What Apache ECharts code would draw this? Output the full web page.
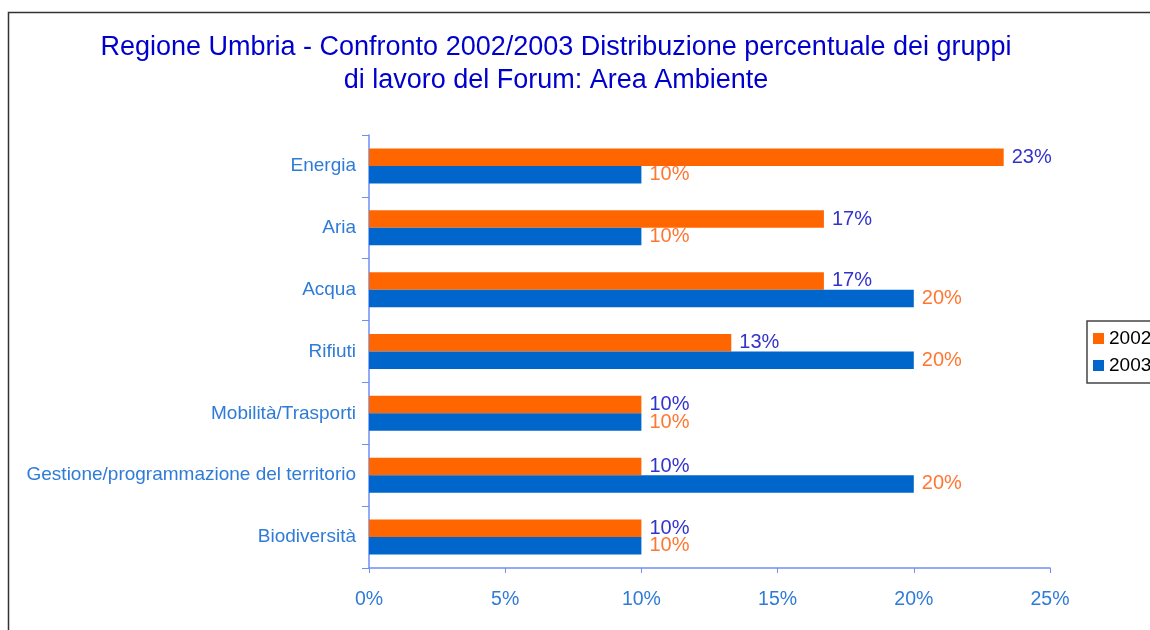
<!DOCTYPE html>
<html>
<head>
    <meta charset="utf-8">
    <title>Regione Umbria - Area Ambiente</title>
    <script src="https://cdn.jsdelivr.net/npm/echarts@6/dist/echarts.min.js"></script>
    <style>
        body { margin: 0; background: #fff; }
        #main { width: 1150px; height: 630px; }
    </style>
</head>
<body>
    <div id="main"></div>
    <script type="text/javascript">
        var categories = ['Energia', 'Aria', 'Acqua', 'Rifiuti', 'Mobilità/Trasporti',
            'Gestione/programmazione del territorio', 'Biodiversità'];
        var values2002 = [23.3, 16.7, 16.7, 13.3, 10, 10, 10];
        var values2003 = [10, 10, 20, 20, 10, 20, 10];
        var xTicks = [0, 5, 10, 15, 20, 25];

        var font = '"Liberation Sans", Arial, sans-serif';
        var chart = echarts.init(document.getElementById('main'));

        var option = {
            animation: false,
            textStyle: { fontFamily: font },
            title: {
                text: 'Regione Umbria - Confronto 2002/2003 Distribuzione percentuale dei gruppi\ndi lavoro del Forum: Area Ambiente',
                left: 551,
                top: 26,
                textAlign: 'center',
                textStyle: {
                    color: '#0000CC',
                    fontSize: 27,
                    fontWeight: 'normal',
                    lineHeight: 33,
                    align: 'center'
                }
            },
            legend: {
                data: ['2002', '2003'],
                orient: 'vertical',
                left: 1087,
                top: 321,
                itemWidth: 11,
                itemHeight: 11,
                itemGap: 8,
                padding: [8, 20, 8, 6],
                borderColor: '#444',
                borderWidth: 1.5,
                icon: 'rect',
                textStyle: { color: '#000', fontSize: 19, fontFamily: font }
            },
            graphic: [{
                type: 'rect',
                shape: { x: 8.5, y: 12.5, width: 1160, height: 640 },
                style: { fill: 'none', stroke: '#333', lineWidth: 1.5 },
                silent: true
            }],
            grid: { left: 369, right: 100, top: 135, bottom: 62 },
            xAxis: {
                type: 'value',
                min: 0,
                max: 25,
                interval: 5,
                splitLine: { show: false },
                axisLine: { show: true, lineStyle: { color: '#6F8FF5', width: 1.5 } },
                axisTick: { show: true, length: 5, lineStyle: { color: '#6F8FF5' } },
                axisLabel: {
                    color: '#2F7BD8',
                    fontSize: 19.5,
                    margin: 22,
                    formatter: function (v) { return xTicks.indexOf(v) >= 0 ? v + '%' : ''; }
                }
            },
            yAxis: {
                type: 'category',
                data: categories,
                inverse: true,
                axisLine: { show: true, lineStyle: { color: '#6F8FF5', width: 1.5 } },
                axisTick: { show: true, length: 7, lineStyle: { color: '#6F8FF5' } },
                axisLabel: { color: '#2F7BD8', fontSize: 19, margin: 13 }
            },
            series: [{
                name: '2002',
                type: 'bar',
                data: values2002,
                itemStyle: { color: '#FF6600' },
                barWidth: 17.5,
                barGap: '0%',
                label: {
                    show: true,
                    position: 'right',
                    distance: 8,
                    color: '#3333CC',
                    fontSize: 20,
                    formatter: function (p) { return Math.round(p.value) + '%'; }
                }
            }, {
                name: '2003',
                type: 'bar',
                data: values2003,
                itemStyle: { color: '#0066CC' },
                barWidth: 17.5,
                barGap: '0%',
                label: {
                    show: true,
                    position: 'right',
                    distance: 8,
                    color: '#FF7733',
                    fontSize: 20,
                    formatter: function (p) { return Math.round(p.value) + '%'; }
                }
            }]
        };

        chart.setOption(option);
    </script>
</body>
</html>
